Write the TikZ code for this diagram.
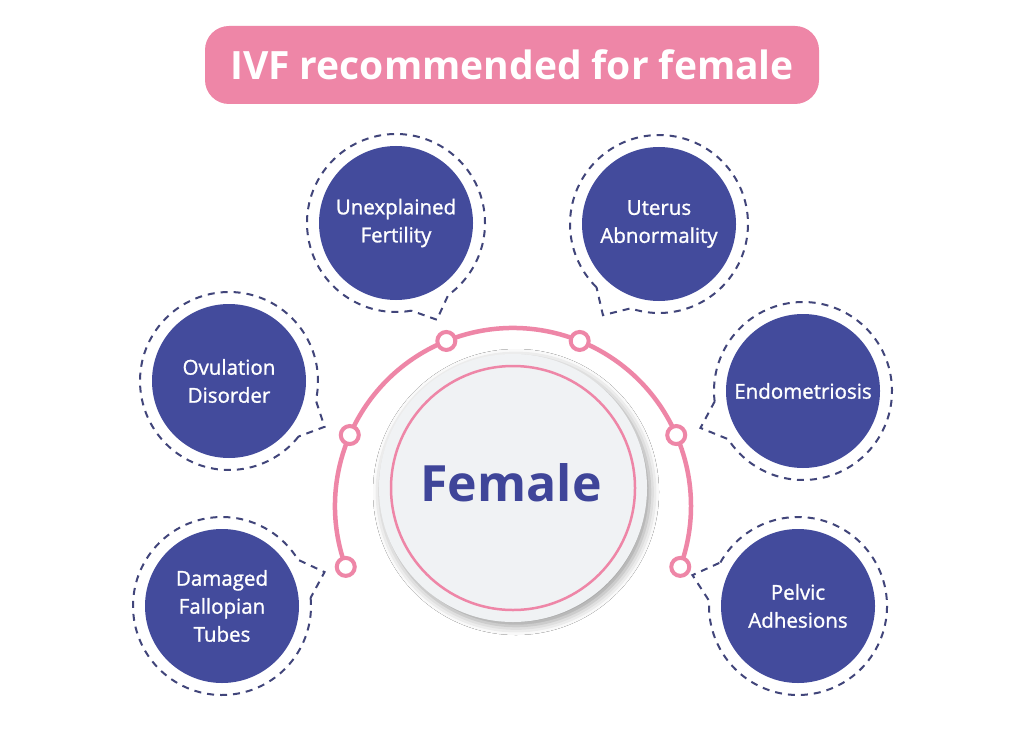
\documentclass[tikz,border=0pt]{standalone}
\usepackage{fontspec}
\setmainfont{Open Sans}
\newfontfamily\semifont[FakeBold=1.2]{Open Sans}
\usetikzlibrary{calc,shadows.blur}
\definecolor{pinkc}{HTML}{EE86A7}
\definecolor{bluec}{HTML}{434B9C}
\definecolor{dashc}{HTML}{41457A}
\definecolor{femc}{HTML}{3F4599}
\definecolor{discc}{HTML}{F0F2F4}
\newcommand\mybubble[6]{%
  \node[topic] (#1) at (#2,#3) {#6};
  \draw[bubbleline] ($(#1)+({#4+13}:89)$) arc[start angle={#4+13}, end angle={#4+347}, radius=89]
     -- ($(#1)+({#4}:#5)$) -- cycle;
}
\begin{document}
\begin{tikzpicture}[x=1pt,y=-1pt,
  titlebox/.style={fill=pinkc, rounded corners=24pt, minimum width=614pt, minimum height=78pt,
     inner sep=0pt, text=white, font=\fontsize{39}{40}\selectfont\bfseries},
  topic/.style={circle, fill=bluec, minimum size=154pt, inner sep=0pt, text=white, align=center,
     font=\semifont\fontsize{20.5}{28}\selectfont},
  bubbleline/.style={draw=dashc, line width=2pt, dash pattern=on 7pt off 6pt},
  ring/.style={circle, draw=pinkc, line width=4pt, fill=white, minimum size=18pt, inner sep=0pt},
  arcline/.style={draw=pinkc, line width=4.5pt},
  disc/.style={circle, fill=discc, minimum size=268pt, inner sep=0pt,
     blur shadow={shadow xshift=3pt, shadow yshift=-4pt, shadow blur radius=9pt, shadow opacity=40}},
]
\useasboundingbox (0,0) rectangle (1024,730);
\fill[white] (0,0) rectangle (1024,730);

\node[titlebox] (title) at (512,65) {IVF recommended for female};

% central disc
\node[disc] (female) at (513,488) {};
\draw[pinkc, line width=2.5pt] (female.center) circle[radius=122];
\node[text=femc, font=\fontsize{50}{50}\selectfont\bfseries] (femlabel) at (511,483) {Female};

% arc with rings
\coordinate (hub) at (513,506);
\draw[arcline] ($(hub)+(160:178)$) arc[start angle=160, end angle=380, radius=178];
\node[ring] (r1) at ($(hub)+(160:178)$) {};
\node[ring] (r2) at ($(hub)+(203.5:178)$) {};
\node[ring] (r3) at ($(hub)+(248:178)$) {};
\node[ring] (r4) at ($(hub)+(292:178)$) {};
\node[ring] (r5) at ($(hub)+(336.5:178)$) {};
\node[ring] (r6) at ($(hub)+(20:178)$) {};

% bubbles
\mybubble{unexp}{396}{223}{67.1}{105}{Unexplained\\Fertility}
\mybubble{uterus}{659}{224}{121.6}{107}{Uterus\\Abnormality}
\mybubble{ovul}{229}{381}{25.6}{106}{Ovulation\\Disorder}
\mybubble{endo}{803}{391}{160.2}{109}{Endometriosis}
\mybubble{damaged}{222}{606}{-18.3}{108}{Damaged\\Fallopian\\Tubes}
\mybubble{pelvic}{798}{606}{196.3}{110}{Pelvic\\Adhesions}
\end{tikzpicture}
\end{document}
